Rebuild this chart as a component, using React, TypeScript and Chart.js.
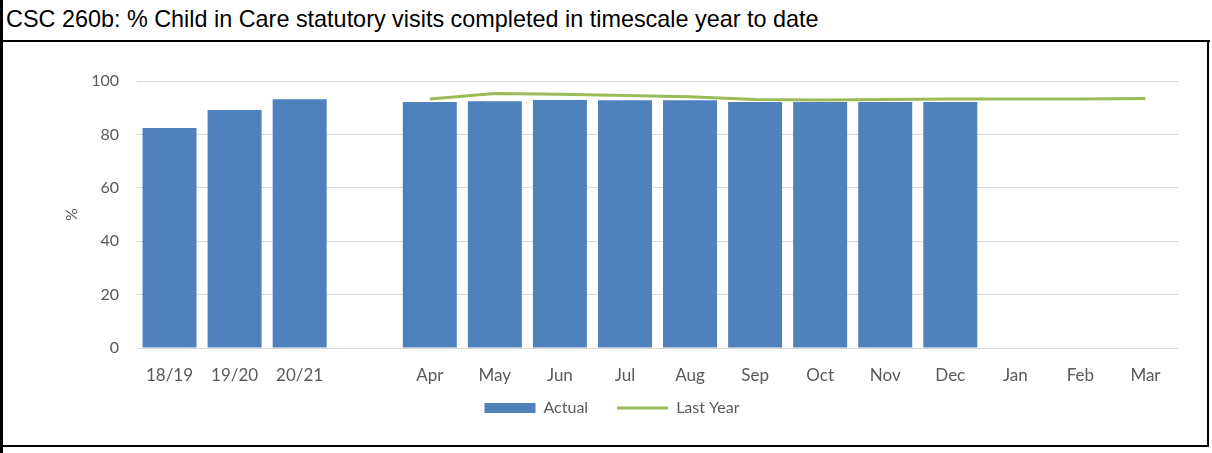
import React, { useEffect, useRef } from "react";
import { Chart, registerables } from "chart.js";

Chart.register(...registerables);

const titleText = "CSC 260b: % Child in Care statutory visits completed in timescale year to date";
const categories = ["18/19", "19/20", "20/21", "", "Apr", "May", "Jun", "Jul", "Aug", "Sep", "Oct", "Nov", "Dec", "Jan", "Feb", "Mar"];
const actualValues = [82.4, 89.1, 93.2, null, 92.1, 92.4, 92.9, 92.8, 92.8, 92.1, 92.1, 92.1, 92.1, null, null, null];
const lastYearValues = [null, null, null, null, 93.3, 95.3, 95.0, 94.6, 94.1, 93.1, 92.9, 93.1, 93.3, 93.3, 93.3, 93.4];
const seriesNames = ["Actual", "Last Year"];
const yAxisTitle = "%";

const FONT = "Lato, 'Open Sans', sans-serif";
const TEXT = "#595959";

export default function App() {
  const ref = useRef<HTMLCanvasElement | null>(null);

  useEffect(() => {
    const canvas = ref.current;
    if (!canvas) return;
    const chart = new Chart(canvas, {
      type: "bar",
      data: {
        labels: categories,
        datasets: [
          {
            type: "bar",
            label: seriesNames[0],
            data: actualValues as any,
            backgroundColor: "#4F81BD",
            borderWidth: 0,
            barPercentage: 0.83,
            categoryPercentage: 1,
            order: 1,
            pointStyle: "rect",
          } as any,
          {
            type: "line",
            label: seriesNames[1],
            data: lastYearValues as any,
            borderColor: "#9BBB59",
            backgroundColor: "#9BBB59",
            borderWidth: 3,
            pointRadius: 0,
            pointHoverRadius: 0,
            pointBorderWidth: 3,
            pointBorderColor: "#9BBB59",
            pointStyle: "line",
            tension: 0,
            spanGaps: false,
            order: 0,
          } as any,
        ],
      },
      options: {
        responsive: false,
        animation: false,
        maintainAspectRatio: false,
        layout: { padding: { left: 42, right: 28, top: 39, bottom: 18 } },
        plugins: {
          tooltip: { enabled: false },
          legend: {
            position: "bottom",
            labels: {
              usePointStyle: true,
              pointStyleWidth: 51,
              boxWidth: 51,
              boxHeight: 10,
              padding: 29,
              color: TEXT,
              font: { family: FONT, size: 16 },
              sort: (a: any, b: any) => a.datasetIndex - b.datasetIndex,
            },
          },
        },
        scales: {
          x: {
            grid: { display: false },
            border: { display: false },
            ticks: {
              color: TEXT,
              font: { family: FONT, size: 17 },
              padding: 9,
              maxRotation: 0,
              autoSkip: false,
            },
            afterFit: (s: any) => {
              s.height = 23;
              s._computeLabelArea = () => undefined;
            },
          },
          y: {
            min: 0,
            max: 100,
            grid: { color: "#D9D9D9", lineWidth: 1, drawTicks: false },
            border: { display: false },
            ticks: {
              stepSize: 20,
              color: TEXT,
              font: { family: FONT, size: 16 },
              padding: 18,
            },
            title: {
              display: true,
              text: yAxisTitle,
              color: TEXT,
              font: { family: FONT, size: 16 },
              padding: { top: 16, bottom: 0 },
            },
            afterFit: (s: any) => {
              s.width = 91;
            },
          },
        },
      } as any,
    });
    return () => chart.destroy();
  }, []);

  return (
    <div style={{ position: "absolute", left: 0, top: 0, width: 1212, height: 453, background: "#fff", overflow: "hidden" }}>
      <div
        style={{
          position: "absolute",
          left: 6,
          top: 6,
          font: "23.4px 'Liberation Sans', Arial, sans-serif",
          color: "#000",
          whiteSpace: "nowrap",
        }}
      >
        {titleText}
      </div>
      <canvas ref={ref} width={1202} height={402} style={{ position: "absolute", left: 4, top: 42, width: 1202, height: 402 }} />
      <div style={{ position: "absolute", left: 0, top: 0, width: 3, height: 453, background: "#000" }} />
      <div style={{ position: "absolute", left: 0, top: 40, width: 1210, height: 2, background: "#000" }} />
      <div style={{ position: "absolute", left: 1207, top: 40, width: 2, height: 407, background: "#000" }} />
      <div style={{ position: "absolute", left: 0, top: 445, width: 1209, height: 2, background: "#000" }} />
    </div>
  );
}
